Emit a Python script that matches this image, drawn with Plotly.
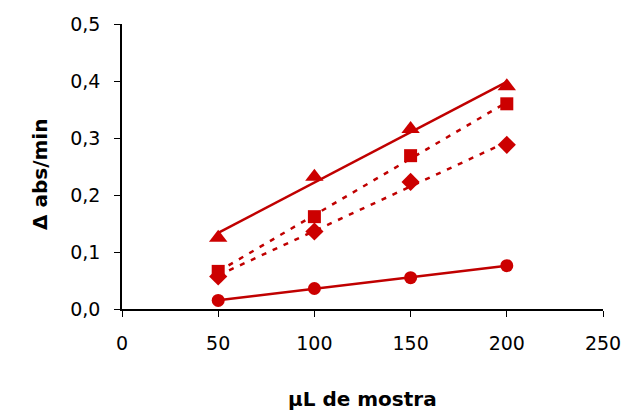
import numpy as np
import plotly.graph_objects as go

x_vals = [50, 100, 150, 200]
triangles = [0.125, 0.232, 0.316, 0.391]
squares = [0.066, 0.162, 0.269, 0.360]
diamonds = [0.057, 0.136, 0.223, 0.288]
circles = [0.015, 0.036, 0.055, 0.076]

x_ticks = [0, 50, 100, 150, 200, 250]
y_ticks = [0.0, 0.1, 0.2, 0.3, 0.4, 0.5]
y_tick_text = ["0,0", "0,1", "0,2", "0,3", "0,4", "0,5"]

marker_color = "#cc0000"
line_color = "#c00000"

series = [
    (triangles, "triangle-up", 16, "solid"),
    (squares, "square", 13, "5px,7px"),
    (diamonds, "diamond", 14, "5px,7px"),
    (circles, "circle", 13, "solid"),
]

fig = go.Figure()
xs = np.array(x_vals, dtype=float)
for ys, sym, sz, dash in series:
    m, b = np.polyfit(xs, np.array(ys), 1)
    xl = [xs.min(), xs.max()]
    yl = [m * v + b for v in xl]
    fig.add_trace(go.Scatter(x=xl, y=yl, mode="lines",
                             line=dict(color=line_color, width=2.5, dash=dash),
                             showlegend=False, hoverinfo="skip"))
for ys, sym, sz, dash in series:
    fig.add_trace(go.Scatter(x=x_vals, y=ys, mode="markers",
                             marker=dict(symbol=sym, size=sz, color=marker_color,
                                         line=dict(width=0)),
                             showlegend=False))

font_family = "DejaVu Sans"
fig.update_layout(
    width=624, height=412,
    margin=dict(l=122, r=21, t=24, b=103, autoexpand=False),
    paper_bgcolor="white", plot_bgcolor="white",
    font=dict(family=font_family, size=19, color="black"),
    xaxis=dict(range=[0, 250], tickvals=x_ticks, ticktext=[str(v) for v in x_ticks],
               showgrid=False, zeroline=False, showline=True, linecolor="black",
               linewidth=1.5, ticks="outside", ticklen=6, tickcolor="black",
               ticklabelstandoff=10, tickfont=dict(size=19), automargin=False),
    yaxis=dict(range=[0, 0.5], tickvals=y_ticks, ticktext=y_tick_text,
               showgrid=False, zeroline=False, showline=True, linecolor="black",
               linewidth=1.5, ticks="outside", ticklen=6, tickcolor="black",
               ticklabelstandoff=10, tickfont=dict(size=19), automargin=False),
    annotations=[
        dict(text="<b>µL de mostra</b>", xref="paper", yref="paper",
             x=(362 - 122) / 481, y=(309 - 399) / 285, xanchor="center",
             yanchor="middle", showarrow=False, font=dict(size=20)),
        dict(text="<b>Δ abs/min</b>", xref="paper", yref="paper",
             x=(40 - 122) / 481, y=(309 - 175) / 285, xanchor="center",
             yanchor="middle", showarrow=False, textangle=-90, font=dict(size=20)),
    ],
)

fig.write_html("out.html")
